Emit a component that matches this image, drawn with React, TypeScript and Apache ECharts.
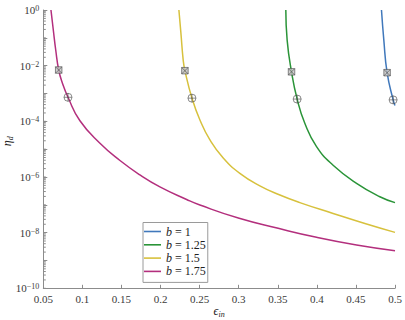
import React, { useEffect, useRef } from 'react';
import * as echarts from 'echarts';

// ---- data ----
const seriesNames = ['b = 1', 'b = 1.25', 'b = 1.5', 'b = 1.75'];
const seriesColors = ['#4078bb', '#2a9438', '#d7c13d', '#b32f7d'];

const epsB1 = [0.4827, 0.4857, 0.4899, 0.4976, 0.5];
const etaB1 = [1, 8.3e-2, 5.6e-3, 5.9e-4, 3.7e-4];

const epsB125 = [0.3603, 0.362, 0.3676, 0.3748, 0.3846, 0.3996, 0.4208, 0.4508, 0.4806, 0.5];
const etaB125 = [1, 8.3e-2, 6.0e-3, 6.3e-4, 8.5e-5, 1.23e-5, 2.65e-6, 5.9e-7, 1.95e-7, 1.2e-7];

const epsB15 = [0.2235, 0.2261, 0.229, 0.2312, 0.2402, 0.2504, 0.2632, 0.2802, 0.3015, 0.3271, 0.3527, 0.3782, 0.4208, 0.4636, 0.5];
const etaB15 = [1, 0.145, 0.0158, 6.6e-3, 6.8e-4, 1.12e-4, 2.14e-5, 4.8e-6, 1.35e-6, 4.8e-7, 2.24e-7, 1.2e-7, 4.9e-8, 2.04e-8, 1.02e-8];

const epsB175 = [0.0598, 0.0628, 0.0659, 0.0697, 0.0746, 0.0816, 0.0969, 0.1225, 0.1481, 0.1737, 0.1992, 0.2334, 0.2504, 0.3006, 0.3505, 0.3996, 0.4508, 0.5];
const etaB175 = [1, 0.191, 0.0366, 6.98e-3, 2.29e-3, 7.3e-4, 1.05e-4, 1.62e-5, 3.9e-6, 1.18e-6, 4.4e-7, 1.55e-7, 9.8e-8, 3.27e-8, 1.43e-8, 6.8e-9, 3.6e-9, 2.24e-9];

const squareEps = [0.4899, 0.3676, 0.2312, 0.0697];
const squareEta = [5.6e-3, 6.0e-3, 6.6e-3, 6.98e-3];
const circleEps = [0.4976, 0.3748, 0.2402, 0.0816];
const circleEta = [5.9e-4, 6.3e-4, 6.8e-4, 7.3e-4];

const xMin = 0.05;
const xMax = 0.5;
const xInterval = 0.05;
const yMin = 1e-10;
const yMax = 1;
const yDecades = [-10, -9, -8, -7, -6, -5, -4, -3, -2, -1];
const yMinorMultipliers = [1, 2, 3, 4, 5, 6, 7, 8, 9];

const FONT = 'Liberation Serif';
const AXIS_GRAY = '#8c8c8c';
const LABEL_COLOR = '#3a3a3a';

const SQUARE_PATH = 'path://M0,0 L10,0 L10,10 L0,10 Z M0,0 L10,10 M10,0 L0,10';
const CIRCLE_PATH = 'path://M5,0 A5,5 0 1,1 5,10 A5,5 0 1,1 5,0 Z M5,0 L5,10 M0,5 L10,5';

export default function App() {
  const ref = useRef<HTMLDivElement>(null);

  useEffect(() => {
    if (!ref.current) return;
    const chart = echarts.init(ref.current, undefined, { renderer: 'svg' });

    const pairs = (xs: number[], ys: number[]) => xs.map((x, i) => [x, ys[i]]);
    const curveData = [
      pairs(epsB1, etaB1),
      pairs(epsB125, etaB125),
      pairs(epsB15, etaB15),
      pairs(epsB175, etaB175),
    ];

    const minorTicks: number[][] = [];
    yDecades.forEach((d) => {
      yMinorMultipliers.forEach((m) => {
        const v = m * Math.pow(10, d);
        if (v >= yMin && v <= yMax) minorTicks.push([xMin, v]);
      });
    });

    const lineSeries = seriesNames.map((name, i) => ({
      name,
      type: 'line',
      data: curveData[i],
      symbol: 'none',
      showSymbol: false,
      smooth: 0.5,
      lineStyle: { color: seriesColors[i], width: 1.5 },
      itemStyle: { color: seriesColors[i] },
      z: 3,
    }));

    const nameRich = {
      e: { fontFamily: FONT, fontSize: 12, fontStyle: 'italic', color: '#222', lineHeight: 12, verticalAlign: 'top' },
      s: { fontFamily: FONT, fontSize: 8, fontStyle: 'italic', color: '#222', lineHeight: 8, padding: [5, 0, 0, 0], verticalAlign: 'top' },
    };

    chart.setOption({
      animation: false,
      backgroundColor: '#ffffff',
      textStyle: { fontFamily: FONT },
      grid: {
        left: 43.3,
        right: 10,
        top: 10,
        bottom: 31.7,
        containLabel: false,
        outerBoundsMode: 'none',
      },
      legend: {
        data: seriesNames.map((n) => ({ name: n, icon: 'rect' })),
        orient: 'vertical',
        left: 143,
        top: 222.5,
        itemWidth: 17,
        itemHeight: 1.6,
        itemGap: 1.3,
        padding: [3, 2, 5, 1],
        borderColor: '#9a9a9a',
        borderWidth: 1,
        borderRadius: 0,
        backgroundColor: '#ffffff',
        formatter: (name: string) => {
          const rest = name.slice(1);
          return '{i|b}{t|' + rest + '}';
        },
        textStyle: {
          fontFamily: FONT,
          fontSize: 12,
          color: '#222',
          lineHeight: 12,
          rich: {
            i: { fontFamily: FONT, fontSize: 12, fontStyle: 'italic', color: '#222', lineHeight: 12 },
            t: { fontFamily: FONT, fontSize: 12, color: '#222', lineHeight: 12 },
          },
        },
      },
      xAxis: {
        type: 'value',
        min: xMin,
        max: xMax,
        interval: xInterval,
        name: '{e|ϵ}{s|in}',
        nameLocation: 'middle',
        nameGap: 17,
        nameMoveOverlap: false,
        nameTextStyle: { rich: nameRich },
        axisLine: { show: true, lineStyle: { color: AXIS_GRAY, width: 1 } },
        axisTick: { show: true, inside: true, length: 3.5, lineStyle: { color: AXIS_GRAY } },
        axisLabel: {
          color: LABEL_COLOR,
          fontFamily: FONT,
          fontSize: 11,
          margin: 5,
          formatter: (v: number) => String(parseFloat(v.toFixed(2))),
        },
        splitLine: { show: false },
      },
      yAxis: {
        type: 'log',
        logBase: 10,
        min: yMin,
        max: yMax,
        interval: 1,
        name: '{e|η}{s|d}',
        nameLocation: 'middle',
        nameRotate: 90,
        nameGap: 30,
        nameMoveOverlap: false,
        nameTextStyle: {
          padding: [0, 0, 0, 16],
          rich: nameRich,
        },
        axisLine: { show: true, lineStyle: { color: AXIS_GRAY, width: 1 } },
        axisTick: { show: true, inside: true, length: 4, lineStyle: { color: AXIS_GRAY } },
        axisLabel: {
          color: LABEL_COLOR,
          fontFamily: FONT,
          margin: 4,
          showMinLabel: true,
          showMaxLabel: true,
          formatter: (v: number) => {
            const e = Math.round(Math.log10(v));
            if (e % 2 !== 0) return '';
            const s = e < 0 ? '\u2212' + String(-e) : String(e);
            return '{b|10}{s|' + s + '}';
          },
          rich: {
            b: { fontFamily: FONT, fontSize: 11, color: LABEL_COLOR, lineHeight: 11, verticalAlign: 'bottom' },
            s: { fontFamily: FONT, fontSize: 8, color: LABEL_COLOR, lineHeight: 8, padding: [0, 0, 5, 0], verticalAlign: 'top' },
          },
        },
        splitLine: { show: false },
        minorTick: { show: false },
      },
      series: [
        ...lineSeries,
        {
          type: 'scatter',
          name: 'squares',
          data: pairs(squareEps, squareEta),
          symbol: SQUARE_PATH,
          symbolSize: 6.5,
          itemStyle: { color: '#c4c4c4', borderColor: '#4a4a4a', borderWidth: 0.8 },
          z: 5,
          silent: true,
        },
        {
          type: 'scatter',
          name: 'circles',
          data: pairs(circleEps, circleEta),
          symbol: CIRCLE_PATH,
          symbolSize: 8,
          itemStyle: { color: 'rgba(255,255,255,0)', borderColor: '#4a4a4a', borderWidth: 0.8 },
          z: 5,
          silent: true,
        },
        {
          type: 'custom',
          name: 'yMinorTicks',
          silent: true,
          clip: false,
          data: minorTicks,
          z: 6,
          renderItem: (params: any, api: any) => {
            const p = api.coord([api.value(0), api.value(1)]);
            return {
              type: 'line',
              shape: { x1: p[0], y1: p[1], x2: p[0] + 2.5, y2: p[1] },
              style: { stroke: AXIS_GRAY, lineWidth: 1 },
            };
          },
        },
      ],
    });

    return () => chart.dispose();
  }, []);

  return (
    <div
      ref={ref}
      style={{ position: 'fixed', left: 0, top: 0, width: 405, height: 320 }}
    />
  );
}
